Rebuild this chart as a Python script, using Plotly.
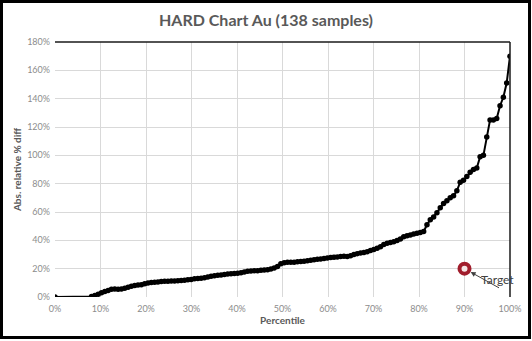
import plotly.graph_objects as go

# ---- data ----
n_samples = 138
n_zero = 11  # samples with 0% difference (all plotted at the 0th percentile)
abs_rel_diff = [
    0.3, 1.0, 2.0, 3.0, 3.8, 4.6, 5.5, 5.6, 5.4, 5.6,
    6.2, 6.8, 7.6, 8.2, 8.4, 8.6, 9.4, 9.8, 10.2, 10.5,
    10.6, 11.0, 11.2, 11.2, 11.3, 11.3, 11.5, 11.7, 11.9, 12.1,
    12.4, 12.8, 13.0, 13.3, 13.6, 14.2, 14.6, 15.0, 15.3, 15.6,
    15.9, 16.2, 16.4, 16.6, 16.8, 17.2, 17.6, 18.2, 18.4, 18.5,
    18.6, 18.9, 19.0, 19.3, 19.8, 20.4, 21.5, 23.5, 24.2, 24.5,
    24.6, 24.6, 24.8, 25.0, 25.2, 25.6, 26.0, 26.3, 26.6, 26.9,
    27.2, 27.5, 27.8, 28.0, 28.3, 28.6, 28.8, 28.6, 29.2, 30.0,
    30.6, 31.0, 31.4, 32.0, 32.8, 33.6, 34.4, 35.4, 37.0, 38.0,
    38.4, 39.0, 39.8, 41.0, 42.5, 43.2, 43.8, 44.4, 45.0, 45.5,
    46.2, 51.0, 54.5, 56.5, 59.5, 63.0, 66.0, 68.0, 70.0, 71.5,
    75.0, 81.0, 82.5, 85.0, 88.0, 90.0, 91.0, 99.0, 100.0, 113.0,
    125.0, 125.0, 126.0, 135.0, 141.0, 151.0, 170.0,
]
target_percentile = [90]
target_value = [20]
x_ticks = [0, 10, 20, 30, 40, 50, 60, 70, 80, 90, 100]
y_ticks = [0, 20, 40, 60, 80, 100, 120, 140, 160, 180]

# percentile by rank; ties at zero share the 0th percentile
pct = [0.0] + [100.0 * (n_zero + k) / (n_samples - 1) for k in range(len(abs_rel_diff))]
vals = [0.0] + abs_rel_diff

W, H = 532, 341
L, R, T, B = 55, 22, 42, 44
pw, ph = W - L - R, H - T - B

fig = go.Figure()
fig.add_trace(go.Scatter(
    x=pct, y=vals, mode="lines+markers",
    line=dict(color="black", width=2),
    marker=dict(color="black", size=5.5),
    hoverinfo="skip", showlegend=False,
))
fig.add_trace(go.Scatter(
    x=target_percentile, y=target_value, mode="markers",
    marker=dict(color="#f4e6e6", size=10, line=dict(color="#a11d2c", width=4)),
    showlegend=False,
))

fig.add_annotation(x=target_percentile[0], y=target_value[0], text="",
                   showarrow=True, ax=36, ay=20, arrowhead=2, arrowsize=1,
                   arrowwidth=1, arrowcolor="#404040", standoff=7)
fig.add_annotation(x=target_percentile[0], y=target_value[0], text="Target",
                   showarrow=False, xshift=33, yshift=-11,
                   font=dict(family="Lato", size=12, color="#404040"))

# frame lines on top/right of plot area
fig.add_shape(type="line", xref="paper", yref="paper", x0=0, x1=1, y0=1, y1=1,
              line=dict(color="#1a1a1a", width=1.5))
fig.add_shape(type="line", xref="paper", yref="paper", x0=1, x1=1, y0=0, y1=1,
              line=dict(color="#1a1a1a", width=1.5))
# outer chart border
def px2paper_x(p):
    return (p - L) / pw
def px2paper_y(p):
    return (H - B - p) / ph
fig.add_shape(type="rect", xref="paper", yref="paper",
              x0=px2paper_x(1.5), x1=px2paper_x(529.5),
              y0=px2paper_y(337.5), y1=px2paper_y(1.5),
              line=dict(color="black", width=3))

fig.update_layout(
    width=W, height=H,
    margin=dict(l=L, r=R, t=T, b=B),
    paper_bgcolor="white", plot_bgcolor="white",
    title=dict(text="<b>HARD Chart Au (138 samples)</b>", x=0.5, xanchor="center",
               y=1 - 20 / H, yanchor="middle",
               font=dict(family="Lato", size=16, color="#595959")),
    font=dict(family="Lato"),
    xaxis=dict(range=[0, 100], tickvals=x_ticks,
               ticktext=[f"{v}%" for v in x_ticks],
               showgrid=True, gridcolor="#d9d9d9", gridwidth=1,
               zeroline=False, showline=False, ticklabelstandoff=5,
               tickfont=dict(size=9, color="#8c8c8c"),
               title=dict(text="<b>Percentile</b>", standoff=3,
                          font=dict(size=10, color="#595959"))),
    yaxis=dict(range=[0, 180], tickvals=y_ticks,
               ticktext=[f"{v}%" for v in y_ticks],
               showgrid=True, gridcolor="#d9d9d9", gridwidth=1,
               zeroline=False, showline=False, ticklabelstandoff=4,
               tickfont=dict(size=9, color="#8c8c8c"),
               title=dict(text="<b>Abs. relative % diff</b>", standoff=3,
                          font=dict(size=10, color="#595959"))),
)

fig.write_html("out.html")
